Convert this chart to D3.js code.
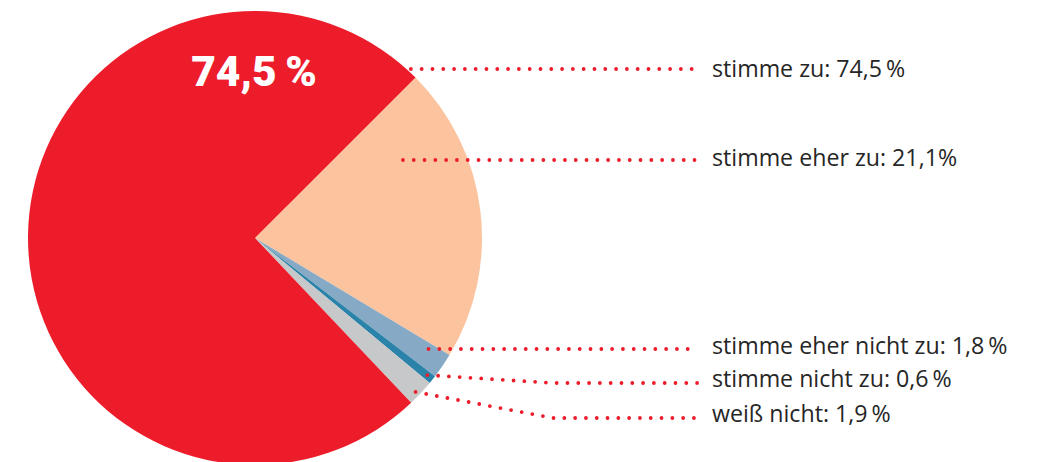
<!DOCTYPE html>
<html>
  <head>
    <meta charset='utf-8'>
    <title>Zustimmung</title>
    <script src='https://cdn.jsdelivr.net/npm/d3@7'></script>
    <style type='text/css'>
      body, html {
        margin: 0;
        padding: 0;
        background: #fff;
      }
      svg {
        display: block;
      }
      .label {
        font-family: 'Open Sans', 'Noto Sans', sans-serif;
        font-size: 23.2px;
        fill: #262626;
      }
      .big {
        font-family: Roboto, sans-serif;
        font-weight: 900;
        font-size: 42.5px;
        fill: #fff;
      }
    </style>
  </head>
  <body>
    <svg width='1038' height='462'></svg>

    <script type='text/javascript'>
      // data, in drawing order (clockwise from the red/peach edge)
      var categories = ['stimme eher zu', 'stimme eher nicht zu', 'stimme nicht zu', 'weiß nicht', 'stimme zu']
      var values = [21.1, 1.8, 0.6, 1.9, 74.5]
      var valueLabels = ['21,1%', '1,8\u2009%', '0,6\u2009%', '1,9\u2009%', '74,5\u2009%']
      var colors = ['#fbc49e', '#86a9c6', '#2b83aa', '#c6c8ca', '#ed1c2b']

      // order of the labels on the right, top to bottom
      var labelOrder = ['stimme zu', 'stimme eher zu', 'stimme eher nicht zu', 'stimme nicht zu', 'weiß nicht']

      var width = 1038, height = 462
      var cx = 255, cy = 238, r = 227
      var startAngle = 45 * Math.PI / 180

      // label layout
      var labelX = 712
      var textY = [77, 166, 354, 387, 422]
      var leaderY = [69, 160, 349, 383, 418]
      var leaderEndX = 698, leaderBendX = 553
      // where inside each slice the leader starts: fraction along the slice, fraction of radius
      var anchorT = [0.99, 0.22, 0.28, 0.45, 0.6]
      var anchorK = [1.02, 0.74, 0.91, 0.97, 0.98]

      var data = categories.map(function(c, i) {
        return {cat: c, value: values[i], text: valueLabels[i], color: colors[i]}
      })

      var svg = d3.select('svg')
      var g = svg.append('g').attr('transform', 'translate(' + cx + ',' + cy + ')')

      var pie = d3.pie()
        .sort(null)
        .value(function(d) { return d.value })
        .startAngle(startAngle)
        .endAngle(startAngle + 2 * Math.PI)

      var arc = d3.arc().innerRadius(0).outerRadius(r)
      var arcs = pie(data)

      g.selectAll('path.slice')
        .data(arcs)
        .enter().append('path')
          .attr('class', 'slice')
          .attr('d', arc)
          .attr('fill', function(d) { return d.data.color })

      // big value inside the red slice, at the top
      var big = arcs[4]
      g.append('text')
        .attr('class', 'big')
        .attr('text-anchor', 'middle')
        .attr('x', -1)
        .attr('y', -r * 0.67)
        .text(big.data.text)

      function polar(angle, radius) {
        return [cx + radius * Math.sin(angle), cy - radius * Math.cos(angle)]
      }

      var line = d3.line()

      labelOrder.forEach(function(name, i) {
        var a = arcs.find(function(d) { return d.data.cat === name })
        var ang = a.startAngle + (a.endAngle - a.startAngle) * anchorT[i]
        var p = polar(ang, r * anchorK[i])
        var pts
        if (Math.abs(p[1] - leaderY[i]) < 3) {
          pts = [[p[0], leaderY[i]], [leaderEndX, leaderY[i]]]
        } else {
          pts = [p, [leaderBendX, leaderY[i]], [leaderEndX, leaderY[i]]]
        }
        svg.append('path')
          .attr('d', line(pts))
          .attr('fill', 'none')
          .attr('stroke', '#ed1c2b')
          .attr('stroke-width', 3.8)
          .attr('stroke-linecap', 'round')
          .attr('stroke-dasharray', '0 10.8')

        svg.append('text')
          .attr('class', 'label')
          .attr('x', labelX)
          .attr('y', textY[i])
          .text(name + ': ' + a.data.text)
      })
    </script>
  </body>
</html>
